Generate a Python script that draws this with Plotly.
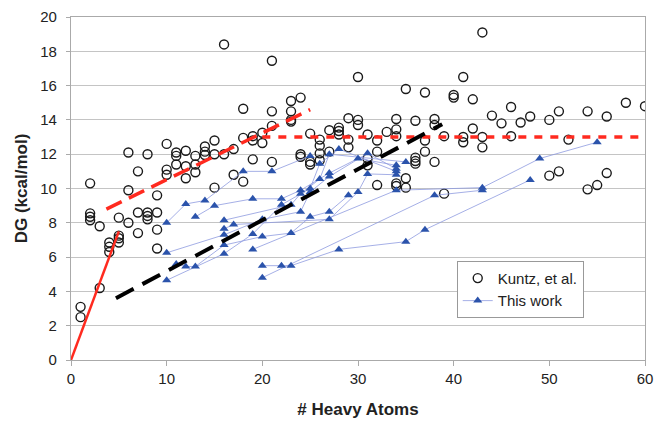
import plotly.graph_objects as go

# ---- Kuntz, et al. data (heavy atoms, DG kcal/mol) ----
kuntz_atoms = [1, 1, 2, 2, 2, 2, 3, 3, 4, 4, 4, 5, 5, 5, 5, 6, 6, 6, 7, 7, 7,
               8, 8, 8, 8, 9, 9, 9, 9, 10, 10, 10, 11, 11, 11, 12, 12, 12,
               13, 13, 13, 14, 14, 14, 15, 15, 15, 16, 16, 17, 17, 18, 18, 18,
               19, 19, 19, 20, 20, 21, 21, 21, 21, 23, 23, 23, 23, 24, 24, 24,
               25, 25, 25, 26, 26, 26, 26, 27, 27, 28, 28, 28, 29, 29, 29,
               30, 30, 30, 31, 31, 31, 32, 32, 32, 33, 34, 34, 34, 34, 34,
               35, 35, 35, 36, 36, 36, 36, 37, 37, 37, 38, 38, 38, 39, 39,
               40, 40, 41, 41, 41, 42, 42, 43, 43, 43, 44, 45, 46, 46, 47, 48,
               50, 50, 51, 51, 52, 54, 54, 55, 56, 56, 58, 60]
kuntz_dg = [3.1, 2.5, 10.3, 8.55, 8.35, 8.15, 7.8, 4.2, 6.85, 6.6, 6.3,
            8.3, 7.25, 7.1, 6.85, 12.1, 9.9, 8.0, 11.0, 8.6, 7.4,
            12.0, 8.6, 8.4, 8.2, 9.6, 8.6, 7.6, 6.5, 12.6, 11.1, 10.8,
            12.1, 11.9, 11.4, 12.2, 11.3, 10.6, 11.9, 11.4, 10.95,
            12.45, 12.15, 11.95, 12.8, 12.0, 10.05, 18.4, 12.0, 12.3, 10.8,
            14.65, 12.95, 10.4, 13.05, 12.8, 11.7, 13.25, 12.65,
            17.45, 14.5, 13.65, 11.55, 15.1, 14.5, 14.0, 13.9, 15.3, 12.0, 11.85,
            13.2, 11.55, 11.4, 12.85, 12.5, 12.05, 11.65, 13.4, 12.15,
            13.55, 13.35, 13.15, 14.1, 12.85, 12.4, 16.5, 14.0, 13.7,
            13.15, 11.75, 11.35, 12.8, 12.15, 10.2, 13.3,
            14.05, 13.45, 13.05, 10.3, 10.15, 15.8, 10.6, 10.05,
            13.95, 11.8, 11.6, 11.45, 15.6, 12.8, 12.15, 14.05, 13.7, 11.55,
            13.05, 9.7, 15.45, 15.3, 16.5, 13.0, 12.7, 15.2, 13.5,
            19.1, 13.0, 12.4, 14.25, 13.8, 14.75, 13.05, 13.85, 14.2,
            14.0, 10.75, 14.5, 11.0, 12.85, 14.5, 9.95, 10.2, 14.2, 10.9, 15.0, 14.8]

# ---- This work: ligand series (None separates series) ----
this_atoms = [10, 12, 14, 18, 21, 25, None,
              13, 15, 19, 22, 24, 27, 30, 34, None,
              10, 16, 20, 24, 25, 27, 31, 34, None,
              10, 16, 19, 22, 25, 26, 28, 34, None,
              11, 12, 13, 16, 20, 23, 25, 27, 29, None,
              16, 23, 24, 26, 27, 35, None,
              16, 17, 27, 30, 31, 34, None,
              20, 22, 23, 28, 35, 37, 48, None,
              19, 34, 43, 49, 55, None,
              20, 38, 43]
this_dg = [8.0, 9.1, 9.3, 11.0, 11.0, 11.9, None,
           8.35, 9.0, 9.4, 9.4, 9.9, 10.9, 11.75, 11.35, None,
           6.25, 7.3, 8.2, 8.65, 9.8, 10.7, 12.05, 11.15, None,
           4.65, 6.2, 7.35, 9.05, 10.0, 11.45, 12.3, 11.0, None,
           5.6, 5.45, 5.45, 6.7, 7.2, 7.4, 8.35, 8.65, 9.6, None,
           8.15, 9.05, 9.7, 10.55, 12.0, 11.55, None,
           7.65, 7.9, 8.2, 9.8, 10.85, 10.8, None,
           5.5, 5.5, 5.5, 6.45, 6.9, 7.6, 10.5, None,
           6.45, 9.9, 10.05, 11.75, 12.7, None,
           4.8, 9.6, 9.9]

# ---- trend lines ----
fit_a_x, fit_a_y = [0, 5], [0, 7.5]
fit_b_x, fit_b_y = [3.7, 25], [8.8, 14.6]
fit_c_x, fit_c_y = [20, 60], [13.0, 13.0]
fit_d_x, fit_d_y = [4.7, 38.8], [3.6, 13.75]

x_ticks = [0, 10, 20, 30, 40, 50, 60]
y_ticks = [0, 2, 4, 6, 8, 10, 12, 14, 16, 18, 20]

FONT = "Liberation Sans, Arial, sans-serif"
RED = "#FF2A1F"

fig = go.Figure()
fig.add_trace(go.Scatter(
    x=kuntz_atoms, y=kuntz_dg, mode="markers", name="Kuntz, et al.",
    marker=dict(symbol="circle-open", size=9, color="#1a1a1a", line=dict(width=1.4))))
fig.add_trace(go.Scatter(
    x=this_atoms, y=this_dg, mode="lines+markers", name="This work",
    connectgaps=False,
    line=dict(color="#8E9BE0", width=0.8),
    marker=dict(symbol="triangle-up", size=8, color="#2B53AB")))
fig.add_trace(go.Scatter(x=fit_a_x, y=fit_a_y, mode="lines", showlegend=False,
                         line=dict(color=RED, width=2.5)))
fig.add_trace(go.Scatter(x=fit_b_x, y=fit_b_y, mode="lines", showlegend=False,
                         line=dict(color=RED, width=3.5, dash="17px,8px")))
fig.add_trace(go.Scatter(x=fit_c_x, y=fit_c_y, mode="lines", showlegend=False,
                         line=dict(color=RED, width=3.5, dash="8px,8px")))
fig.add_trace(go.Scatter(x=fit_d_x, y=fit_d_y, mode="lines", showlegend=False,
                         line=dict(color="#000000", width=4, dash="20px,10px")))

fig.update_layout(
    width=654, height=422,
    margin=dict(l=71, r=9, t=17, b=62),
    paper_bgcolor="white", plot_bgcolor="white",
    font=dict(family=FONT, size=15, color="#222"),
    legend=dict(x=0.672, y=0.289, xanchor="left", yanchor="top",
                bgcolor="white", bordercolor="#999", borderwidth=1,
                font=dict(size=15), tracegroupgap=0),
    xaxis=dict(range=[0, 60], tickvals=x_ticks, showgrid=False, zeroline=False,
               automargin=False,
               showline=True, linecolor="#aaaaaa", linewidth=1.3, mirror=True,
               ticks="outside", ticklen=5, tickcolor="#aaaaaa",
               title=dict(text="<b># Heavy Atoms</b>", font=dict(size=17), standoff=16)),
    yaxis=dict(range=[0, 20], tickvals=y_ticks, showgrid=True, gridcolor="#c4c4c4",
               gridwidth=1.3, zeroline=False, automargin=False,
               showline=True, linecolor="#aaaaaa", linewidth=1.3, mirror=True,
               ticks="outside", ticklen=4, tickcolor="#aaaaaa", ticklabelstandoff=6,
               title=dict(text="<b>DG (kcal/mol)</b>", font=dict(size=17), standoff=8)),
)

fig.write_html("out.html")
